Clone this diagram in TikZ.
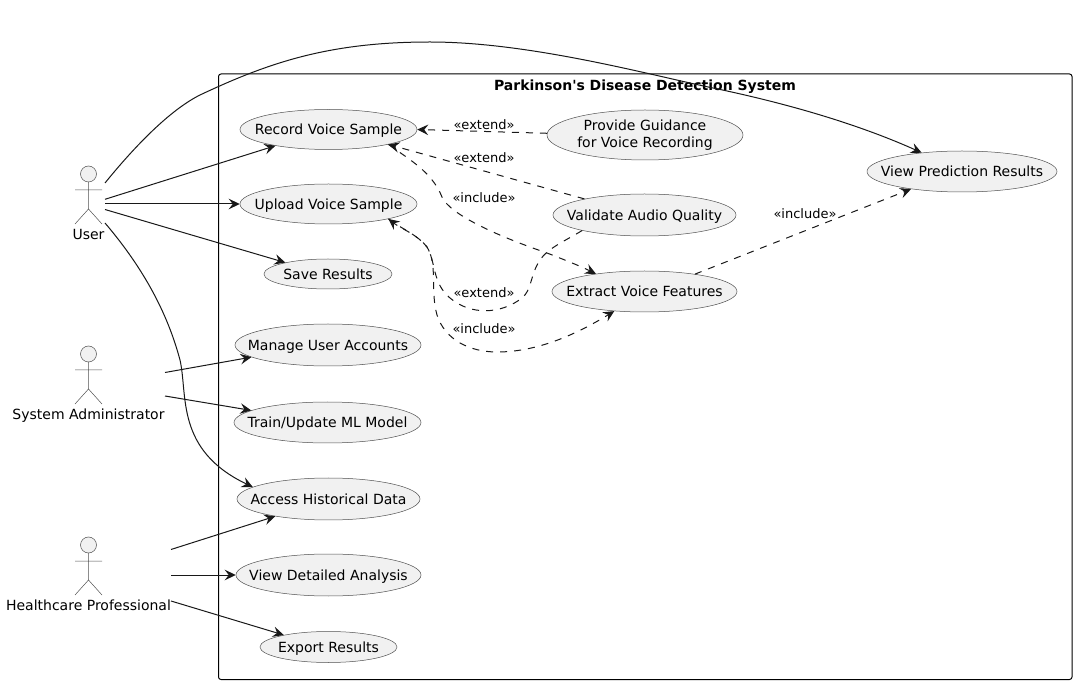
\documentclass[tikz,border=0pt]{standalone}
\usepackage{fontspec}
\setmainfont{DejaVu Sans}
\usetikzlibrary{shapes.geometric}
\usetikzlibrary{arrows.meta}

\definecolor{casefill}{HTML}{F1F1F1}
\definecolor{caseline}{HTML}{181818}
\definecolor{thinline}{HTML}{505050}

\tikzset{
  usecase/.style={ellipse,draw=thinline,fill=casefill,line width=.5pt,inner ysep=0pt,inner xsep=-20pt,align=center,font=\fontsize{14}{16.3}\selectfont},
  singleline/.style={text height=12pt,text depth=1pt},
  actorline/.style={draw=thinline,line width=.5pt},
  actorname/.style={singleline,inner sep=0pt,font=\fontsize{14}{16}\selectfont},
  flowlabel/.style={text height=10pt,text depth=1pt,inner sep=0pt,font=\fontsize{13}{15}\selectfont},
  flow/.style={draw=caseline,line width=1pt,-{Stealth[length=11pt,width=10.5pt,inset=4pt]}},
  dashflow/.style={flow,dash pattern=on 7pt off 7pt},
}

\begin{document}
\begin{tikzpicture}[x=1pt,y=-1pt]
\useasboundingbox (0,0) rectangle (1077,684);

% system frame
\draw [black,line width=1pt,rounded corners=2.5pt] (218.5,74) rectangle (1072,679.5);
\node [singleline,inner sep=0pt,font=\bfseries\fontsize{14}{16}\selectfont] (systemtitle) at (645,85) {Parkinson\textquotesingle s Disease Detection System};

% actors
\draw [actorline,fill=casefill] (88.5,174) circle [radius=8];
\draw [actorline] (88.5,182) -- (88.5,209) (75,190) -- (102,190) (75,224) -- (88.5,209) -- (102,224);
\node [actorname] (user) at (88.5,234) {User};

\draw [actorline,fill=casefill] (88.5,354) circle [radius=8];
\draw [actorline] (88.5,362) -- (88.5,389) (75,370) -- (102,370) (75,404) -- (88.5,389) -- (102,404);
\node [actorname] (admin) at (88.5,414) {System Administrator};

\draw [actorline,fill=casefill] (88.5,545) circle [radius=8];
\draw [actorline] (88.5,553) -- (88.5,580) (75,561) -- (102,561) (75,595) -- (88.5,580) -- (102,595);
\node [actorname] (health) at (88.5,605) {Healthcare Professional};

% use cases
\node [usecase,singleline,minimum width=177pt,minimum height=40pt] (record) at (328.5,129.5) {Record Voice Sample};
\node [usecase,singleline,minimum width=177pt,minimum height=40pt] (upload) at (328.5,204) {Upload Voice Sample};
\node [usecase,singleline,minimum width=128pt,minimum height=30pt] (save) at (328,274) {Save Results};
\node [usecase,singleline,minimum width=186pt,minimum height=42pt] (manage) at (328,345) {Manage User Accounts};
\node [usecase,singleline,minimum width=187pt,minimum height=41pt] (train) at (327.5,422.5) {Train/Update ML Model};
\node [usecase,singleline,minimum width=183pt,minimum height=42pt] (access) at (328.5,499) {Access Historical Data};
\node [usecase,singleline,minimum width=185pt,minimum height=42pt] (detailed) at (328.5,575) {View Detailed Analysis};
\node [usecase,singleline,minimum width=137pt,minimum height=31pt] (export) at (328.5,647) {Export Results};
\node [usecase,minimum width=196pt,minimum height=50pt] (guidance) at (645,135) {Provide Guidance\\for Voice Recording};
\node [usecase,singleline,minimum width=183pt,minimum height=42pt] (validate) at (644.5,215) {Validate Audio Quality};
\node [usecase,singleline,minimum width=185pt,minimum height=41pt] (extract) at (644.5,291.5) {Extract Voice Features};
\node [usecase,singleline,minimum width=190pt,minimum height=41pt] (prediction) at (962,171.5) {View Prediction Results};

% free ends at the actors
\coordinate (userA) at (105,183);
\coordinate (userB) at (105,199.3);
\coordinate (userC) at (105,204);
\coordinate (userD) at (105,209.5);
\coordinate (userE) at (105,223);
\coordinate (adminA) at (165,372.5);
\coordinate (adminB) at (165,396);
\coordinate (healthA) at (171,549.5);
\coordinate (healthB) at (171,575);
\coordinate (healthC) at (171,601);

% actor links
\draw [flow] (userA) .. controls (135,146) and (170,110) .. (200,95) .. controls (270,62) and (330,42) .. (430,42) .. controls (530,42) and (650,75) .. (713,88) .. controls (790,104) and (860,125) .. (prediction.155);
\draw [flow] (userB) -- (record.197);
\draw [flow] (userC) -- (upload.west);
\draw [flow] (userD) -- (save.165);
\draw [flow] (userE) .. controls (145,270) and (168,315) .. (180,360) .. controls (188,395) and (175,450) .. (access.171);
\draw [flow] (adminA) -- (manage.189.4);
\draw [flow] (adminB) -- (train.171.6);
\draw [flow] (healthA) -- (access.198);
\draw [flow] (healthB) -- (detailed.west);
\draw [flow] (healthC) -- (export.165);

% extend and include links
\draw [dashflow] (guidance.179) -- (record.east);
\draw [dashflow] (validate.165) -- (record.-14.5);
\draw [dashflow] (record.-14.5) .. controls (410,160) and (432,172) .. (442,197) .. controls (450,215) and (500,237) .. (547,253) .. controls (565,260) and (580,266) .. (extract.160.7);
\draw [dashflow] (validate.194) .. controls (565,241) and (548,248) .. (540,260) .. controls (530,275) and (532,290) .. (522,298) .. controls (500,315) and (470,315) .. (450,298) .. controls (432,283) and (436,262) .. (427,247) .. controls (418,235) and (400,228) .. (upload.-14.5);
\draw [dashflow] (upload.-14.5) .. controls (400,228) and (418,235) .. (427,247) .. controls (438,265) and (430,290) .. (437,315) .. controls (445,340) and (470,352) .. (497,352) .. controls (540,352) and (580,332) .. (extract.213.3);
\draw [dashflow] (extract.19.8) -- (prediction.199.8);

\node [flowlabel] (labelguidance) at (484,125) {«extend»};
\node [flowlabel] (labelvalidate) at (484,158.5) {«extend»};
\node [flowlabel] (labelrecord) at (484,198.5) {«include»};
\node [flowlabel] (labelupload) at (484,293) {«extend»};
\node [flowlabel] (labelextract) at (484,329.5) {«include»};
\node [flowlabel] (labelprediction) at (805,214.5) {«include»};
\end{tikzpicture}
\end{document}
